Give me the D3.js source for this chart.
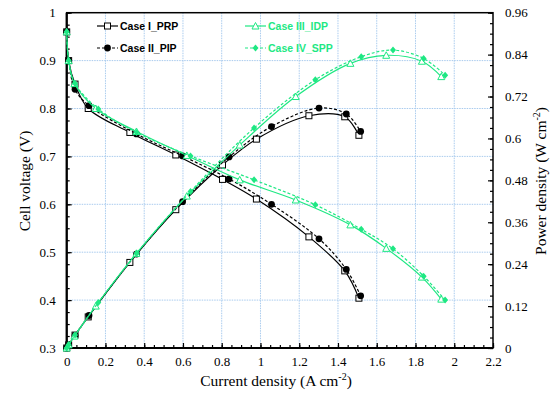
<!DOCTYPE html>
<html>
<head>
<meta charset="utf-8">
<script src="https://cdn.jsdelivr.net/npm/d3@7"></script>
<style>
  body { margin: 0; background: #fff; }
  svg { display: block; }
  .serif { font-family: "Liberation Serif", "Times New Roman", "DejaVu Serif", serif; }
</style>
</head>
<body>
<div id="canvas"></div>
<script>
const w = 552, h = 394;
const green = "#1ee883";

// current density (A cm-2), voltage (V), power density (W cm-2)
const caseI_I = [0, 0.01, 0.043, 0.111, 0.326, 0.563, 0.804, 0.979, 1.25, 1.435, 1.508];
const caseI_V = [0.96, 0.90, 0.851, 0.80, 0.75, 0.703, 0.652, 0.611, 0.532, 0.461, 0.404];
const caseI_P = [0, 0.009, 0.037, 0.089, 0.245, 0.396, 0.524, 0.598, 0.665, 0.662, 0.609];

const caseII_I = [0, 0.01, 0.043, 0.115, 0.36, 0.598, 0.838, 1.057, 1.302, 1.443, 1.517];
const caseII_V = [0.96, 0.90, 0.84, 0.806, 0.747, 0.701, 0.653, 0.60, 0.528, 0.464, 0.409];
const caseII_P = [0, 0.009, 0.036, 0.093, 0.269, 0.419, 0.547, 0.634, 0.687, 0.670, 0.620];

const caseIII_I = [0, 0.01, 0.04, 0.15, 0.36, 0.62, 0.893, 1.182, 1.464, 1.649, 1.833, 1.933];
const caseIII_V = [0.96, 0.90, 0.852, 0.80, 0.752, 0.702, 0.651, 0.609, 0.557, 0.508, 0.448, 0.402];
const caseIII_P = [0, 0.009, 0.034, 0.12, 0.271, 0.435, 0.581, 0.72, 0.815, 0.838, 0.821, 0.777];

const caseIV_I = [0, 0.01, 0.043, 0.163, 0.361, 0.639, 0.967, 1.283, 1.52, 1.684, 1.842, 1.953];
const caseIV_V = [0.96, 0.90, 0.852, 0.799, 0.75, 0.701, 0.651, 0.599, 0.548, 0.507, 0.45, 0.40];
const caseIV_P = [0, 0.009, 0.037, 0.13, 0.271, 0.448, 0.63, 0.768, 0.834, 0.853, 0.829, 0.781];

const xTicks = [0, 0.2, 0.4, 0.6, 0.8, 1, 1.2, 1.4, 1.6, 1.8, 2, 2.2];
const vTicks = [0.3, 0.4, 0.5, 0.6, 0.7, 0.8, 0.9, 1];
const pTicks = [0, 0.12, 0.24, 0.36, 0.48, 0.6, 0.72, 0.84, 0.96];

const series = [
  {name: "Case I_PRP", I: caseI_I, V: caseI_V, P: caseI_P, color: "#000", dash: null, marker: "square"},
  {name: "Case II_PIP", I: caseII_I, V: caseII_V, P: caseII_P, color: "#000", dash: "3,2", marker: "circle"},
  {name: "Case III_IDP", I: caseIII_I, V: caseIII_V, P: caseIII_P, color: green, dash: null, marker: "triangle"},
  {name: "Case IV_SPP", I: caseIV_I, V: caseIV_V, P: caseIV_P, color: green, dash: "3,2", marker: "diamond"}
];

const pLeft = 66.7, pRight = 493, pTop = 12.7, pBottom = 348;

let x = d3.scaleLinear().domain([0, 2.2]).range([pLeft, pRight]);
let yV = d3.scaleLinear().domain([0.3, 1]).range([pBottom, pTop]);
let yP = d3.scaleLinear().domain([0, 0.96]).range([pBottom, pTop]);

let svg = d3.select("#canvas")
            .append("svg")
                .attr("width", w)
                .attr("height", h)
                .attr("viewBox", [0, 0, w, h]);

// grid
let grid = svg.append("g")
    .attr("stroke", "#a9cbee")
    .attr("stroke-width", 1)
    .attr("stroke-dasharray", "1.5,1");
grid.selectAll("line.vx")
    .data(xTicks.slice(1, -1))
    .enter().append("line")
        .attr("x1", d => x(d)).attr("x2", d => x(d))
        .attr("y1", pTop).attr("y2", pBottom);
grid.selectAll("line.hy")
    .data(vTicks.slice(1, -1))
    .enter().append("line")
        .attr("y1", d => yV(d)).attr("y2", d => yV(d))
        .attr("x1", pLeft).attr("x2", pRight);

// axes, ticks inward
let xAxis = d3.axisBottom(x).tickValues(d3.range(0, 2.2001, 0.05)).tickSize(-3).tickFormat("");
let xAxisMajor = d3.axisBottom(x).tickValues(xTicks).tickSize(-5).tickPadding(9).tickFormat(d3.format("~g"));
let yAxisMinor = d3.axisLeft(yV).tickValues(d3.range(0.3, 1.0001, 0.025)).tickSize(-3).tickFormat("");
let yAxisMajor = d3.axisLeft(yV).tickValues(vTicks).tickSize(-5).tickPadding(11).tickFormat(d3.format("~g"));
let pAxisMinor = d3.axisRight(yP).tickValues(d3.range(0, 0.9601, 0.03)).tickSize(-3).tickFormat("");
let pAxisMajor = d3.axisRight(yP).tickValues(pTicks).tickSize(-5).tickPadding(12).tickFormat(d3.format("~g"));

function styleAxis(g) {
  g.select(".domain").remove();
  g.attr("font-family", null);
  g.selectAll("line").attr("stroke", "#000").attr("stroke-width", 1.2);
  g.selectAll("text")
      .attr("class", "serif")
      .attr("font-size", 13)
      .attr("fill", "#000");
}

svg.append("g").attr("transform", `translate(0,${pBottom})`).call(xAxis).call(styleAxis);
svg.append("g").attr("transform", `translate(0,${pBottom})`).call(xAxisMajor).call(styleAxis);
svg.append("g").attr("transform", `translate(${pLeft},0)`).call(yAxisMinor).call(styleAxis);
svg.append("g").attr("transform", `translate(${pLeft},0)`).call(yAxisMajor).call(styleAxis);
svg.append("g").attr("transform", `translate(${pRight},0)`).call(pAxisMinor).call(styleAxis);
svg.append("g").attr("transform", `translate(${pRight},0)`).call(pAxisMajor).call(styleAxis);

// frame
svg.append("rect")
    .attr("x", pLeft).attr("y", pTop)
    .attr("width", pRight - pLeft).attr("height", pBottom - pTop)
    .attr("fill", "none").attr("stroke", "#000").attr("stroke-width", 1.5);
svg.append("line").attr("x1", pLeft).attr("x2", pLeft).attr("y1", pTop).attr("y2", pBottom)
    .attr("stroke", "#000").attr("stroke-width", 2.2);
svg.append("line").attr("x1", pLeft).attr("x2", pRight).attr("y1", pBottom).attr("y2", pBottom)
    .attr("stroke", "#000").attr("stroke-width", 2.2);

// axis titles
svg.append("text")
    .attr("class", "serif")
    .attr("transform", "translate(30,181) rotate(-90)")
    .attr("text-anchor", "middle")
    .attr("font-size", 15.5)
    .text("Cell voltage (V)");

let xt = svg.append("text")
    .attr("class", "serif")
    .attr("x", 276).attr("y", 386)
    .attr("text-anchor", "middle")
    .attr("font-size", 15.5);
xt.append("tspan").text("Current density (A cm");
xt.append("tspan").attr("font-size", 10).attr("dy", -6).text("-2");
xt.append("tspan").attr("dy", 6).text(")");

let pt = svg.append("text")
    .attr("class", "serif")
    .attr("transform", "translate(546,181) rotate(-90)")
    .attr("text-anchor", "middle")
    .attr("font-size", 15.5);
pt.append("tspan").text("Power density (W cm");
pt.append("tspan").attr("font-size", 10).attr("dy", -6).text("-2");
pt.append("tspan").attr("dy", 6).text(")");

// curves
function drawMarker(g, type, color) {
  if (type === "square") {
    g.append("rect").attr("x", -3).attr("y", -3).attr("width", 6).attr("height", 6)
      .attr("fill", "#fff").attr("stroke", color).attr("stroke-width", 1);
  } else if (type === "circle") {
    g.append("circle").attr("r", 3.4).attr("fill", color);
  } else if (type === "triangle") {
    g.append("path").attr("d", "M0,-3.5L3.5,3L-3.5,3Z")
      .attr("fill", "#fff").attr("stroke", color).attr("stroke-width", 1);
  } else {
    g.append("path").attr("d", "M0,-3.5L3,0L0,3.5L-3,0Z").attr("fill", color);
  }
}

let plot = svg.append("g");
series.forEach(s => {
  let ptsV = s.I.map((d, i) => [d, s.V[i]]);
  let ptsP = s.I.map((d, i) => [d, s.P[i]]);
  let lineV = d3.line().x(d => x(d[0])).y(d => yV(d[1])).curve(d3.curveCatmullRom.alpha(0.5));
  let lineP = d3.line().x(d => x(d[0])).y(d => yP(d[1])).curve(d3.curveCatmullRom.alpha(0.5));
  [[ptsV, lineV, yV], [ptsP, lineP, yP]].forEach(([pts, line, ys]) => {
    plot.append("path")
        .datum(pts)
        .attr("d", line)
        .attr("fill", "none")
        .attr("stroke", s.color)
        .attr("stroke-width", 1.2)
        .attr("stroke-dasharray", s.dash);
    plot.selectAll(null)
        .data(pts)
        .enter().append("g")
            .attr("transform", d => `translate(${x(d[0])},${ys(d[1])})`)
            .each(function() { drawMarker(d3.select(this), s.marker, s.color); });
  });
});

// legend
const legendPos = [[97, 26], [97, 48], [245, 26], [245, 48]];
series.forEach((s, i) => {
  let [lx, ly] = legendPos[i];
  let g = svg.append("g").attr("transform", `translate(${lx},${ly})`);
  g.append("line").attr("x1", 0).attr("x2", 21).attr("y1", 0).attr("y2", 0)
    .attr("stroke", s.color).attr("stroke-width", 1.2).attr("stroke-dasharray", s.dash);
  drawMarker(g.append("g").attr("transform", "translate(10.5,0)"), s.marker, s.color);
  g.append("text")
    .attr("x", 23).attr("y", 4)
    .attr("font-family", "'Liberation Sans', Arial, sans-serif")
    .attr("font-weight", "bold").attr("font-size", 10.5)
    .attr("fill", s.color)
    .text(s.name);
});
</script>
</body>
</html>
